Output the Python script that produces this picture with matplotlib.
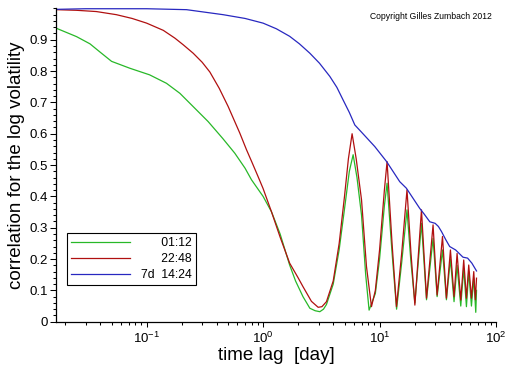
import matplotlib
matplotlib.use('Agg')
import matplotlib.pyplot as plt
from matplotlib.ticker import FuncFormatter, MultipleLocator

plt.rcParams['font.family'] = ['Liberation Sans', 'DejaVu Sans']
plt.rcParams['mathtext.default'] = 'regular'
plt.rcParams['axes.unicode_minus'] = False

# time lag [day] / correlation
lag_0112 = [0.0167, 0.025, 0.0326, 0.04, 0.05, 0.0718, 0.106, 0.148, 0.193, 0.268,
            0.337, 0.45, 0.571, 0.7, 0.795, 1.0, 1.18, 1.4, 1.69, 1.9, 2.2, 2.52,
            2.8, 3.07, 3.3, 3.5, 4.0, 4.5, 5.0, 5.5, 5.93, 6.4, 7.0, 7.6, 8.13,
            9.2, 10.0, 11.0, 11.6, 12.8, 14.0, 15.5, 17.2, 18.6, 20.1, 22.9, 25.3,
            28.8, 31.2, 34.7, 37.5, 40.6, 43.6, 46.3, 49.8, 52.8, 55.7, 58.3,
            61.5, 64.4, 67.0, 68.0]
corr_0112 = [0.937, 0.910, 0.887, 0.860, 0.831, 0.809, 0.788, 0.761, 0.729, 0.676,
             0.639, 0.585, 0.538, 0.490, 0.453, 0.400, 0.351, 0.280, 0.181, 0.130,
             0.080, 0.043, 0.035, 0.032, 0.040, 0.055, 0.12, 0.23, 0.36, 0.48,
             0.533, 0.46, 0.34, 0.15, 0.037, 0.09, 0.20, 0.37, 0.442, 0.22, 0.040,
             0.19, 0.357, 0.19, 0.060, 0.314, 0.070, 0.266, 0.080, 0.229, 0.070,
             0.200, 0.064, 0.180, 0.050, 0.170, 0.048, 0.160, 0.050, 0.140, 0.030,
             0.10]

lag_2248 = [0.0167, 0.025, 0.037, 0.055, 0.075, 0.1, 0.139, 0.175, 0.206, 0.251,
            0.3, 0.349, 0.42, 0.501, 0.631, 0.72, 0.8, 0.906, 1.0, 1.18, 1.4, 1.69,
            2.0, 2.2, 2.6, 2.97, 3.2, 3.5, 4.0, 4.5, 5.0, 5.4, 5.81, 6.3, 7.0,
            7.72, 8.52, 9.2, 10.0, 11.0, 11.6, 12.8, 13.97, 15.5, 17.2, 18.6, 20.1,
            22.9, 25.3, 28.8, 31.2, 34.7, 37.5, 40.6, 43.6, 46.3, 49.8, 52.8, 55.7,
            58.3, 61.5, 64.4, 66.5, 68.0]
corr_2248 = [0.996, 0.994, 0.990, 0.980, 0.968, 0.953, 0.930, 0.905, 0.884, 0.857,
             0.828, 0.797, 0.745, 0.687, 0.602, 0.549, 0.510, 0.463, 0.425, 0.351,
             0.270, 0.187, 0.140, 0.112, 0.065, 0.046, 0.048, 0.064, 0.13, 0.25,
             0.40, 0.52, 0.600, 0.52, 0.389, 0.176, 0.048, 0.10, 0.229, 0.42, 0.511,
             0.25, 0.048, 0.22, 0.421, 0.22, 0.053, 0.357, 0.075, 0.309, 0.085,
             0.272, 0.075, 0.229, 0.080, 0.218, 0.069, 0.197, 0.075, 0.181, 0.075,
             0.160, 0.07, 0.139]

lag_7d = [0.0167, 0.03, 0.1, 0.22, 0.454, 0.7, 1.0, 1.3, 1.69, 2.05, 2.52, 3.05,
          3.74, 4.3, 4.86, 5.5, 6.13, 7.0, 9.1, 11.5, 14.9, 17.0, 22.1, 24.0,
          27.0, 30.0, 32.0, 34.0, 37.0, 40.0, 45.0, 52.0, 57.0, 62.0, 68.0]
corr_7d = [0.997, 0.999, 0.999, 0.996, 0.980, 0.968, 0.953, 0.935, 0.911, 0.887,
           0.857, 0.825, 0.783, 0.748, 0.708, 0.668, 0.628, 0.605, 0.559, 0.511,
           0.447, 0.426, 0.362, 0.345, 0.319, 0.314, 0.304, 0.288, 0.262, 0.240,
           0.229, 0.206, 0.203, 0.187, 0.162]

labels = ['      01:12', '      22:48', '7d  14:24']

fig = plt.figure(figsize=(5.12, 3.66), dpi=100)
ax = fig.add_axes([0.1094, 0.121, 0.8594, 0.856])

ax.plot(lag_0112, corr_0112, color='#28b828', lw=0.9, label=labels[0])
ax.plot(lag_2248, corr_2248, color='#b01010', lw=0.9, label=labels[1])
ax.plot(lag_7d, corr_7d, color='#2828c0', lw=0.9, label=labels[2])

ax.set_xscale('log')
ax.set_xlim(1 / 60, 100)
ax.set_ylim(0, 1.0)

ax.set_yticks([0, 0.1, 0.2, 0.3, 0.4, 0.5, 0.6, 0.7, 0.8, 0.9])
ax.yaxis.set_minor_locator(MultipleLocator(0.02))
ax.yaxis.set_major_formatter(FuncFormatter(lambda v, p: '0' if v == 0 else '%.1f' % v))

for s in ['top', 'right']:
    ax.spines[s].set_visible(False)
for s in ['left', 'bottom']:
    ax.spines[s].set_linewidth(0.9)

ax.tick_params(axis='both', which='both', direction='out', width=0.75, labelsize=9.5)
ax.tick_params(axis='y', which='major', length=4, pad=2)
ax.tick_params(axis='y', which='minor', length=2.2)
ax.tick_params(axis='x', which='major', length=3.5, pad=3)
ax.tick_params(axis='x', which='minor', length=2.5)

ax.set_xlabel('time lag  [day]', fontsize=13.5, labelpad=1)
ax.set_ylabel('correlation for the log volatility', fontsize=13.5, labelpad=3)

ax.text(0.99, 0.975, 'Copyright Gilles Zumbach 2012', transform=ax.transAxes,
        ha='right', va='center', fontsize=6.2)

leg = ax.legend(loc='lower left', bbox_to_anchor=(0.025, 0.117), borderaxespad=0,
                fontsize=8.8, handlelength=4.8, handletextpad=0.9,
                labelspacing=0.3, borderpad=0.35, fancybox=False, framealpha=1)
leg.get_frame().set_edgecolor('black')
leg.get_frame().set_linewidth(0.8)

fig.savefig('out.png', dpi=100)
